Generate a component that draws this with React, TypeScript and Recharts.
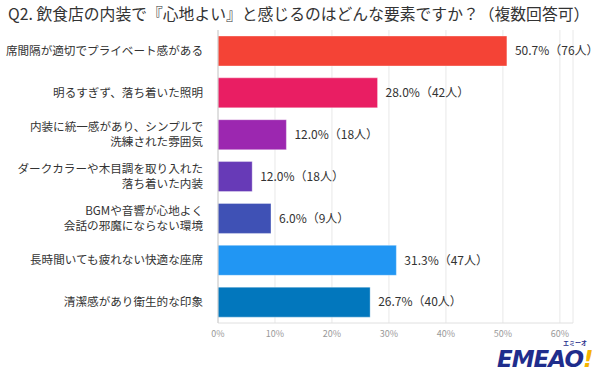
import React from 'react';
import { BarChart, Bar, XAxis, YAxis, CartesianGrid, Cell, LabelList } from 'recharts';

const categories = [
  '席間隔が適切でプライベート感がある',
  '明るすぎず、落ち着いた照明',
  '内装に統一感があり、シンプルで\n洗練された雰囲気',
  'ダークカラーや木目調を取り入れた\n落ち着いた内装',
  'BGMや音響が心地よく\n会話の邪魔にならない環境',
  '長時間いても疲れない快適な座席',
  '清潔感があり衛生的な印象',
];

// bar lengths as drawn in the picture (%)
const barValues = [50.7, 28.0, 12.0, 6.0, 9.3, 31.3, 26.7];

const valueLabels = [
  '50.7%（76人）',
  '28.0%（42人）',
  '12.0%（18人）',
  '12.0%（18人）',
  '6.0%（9人）',
  '31.3%（47人）',
  '26.7%（40人）',
];

const barColors = ['#F44336', '#E91E63', '#9C27B0', '#673AB7', '#3F51B5', '#2196F3', '#0277BD'];

const xTicks = [0, 10, 20, 30, 40, 50, 60];

const data = categories.map((name, i) => ({ name, value: barValues[i], label: valueLabels[i] }));

const FONT = '"Noto Sans CJK JP", "Noto Sans", sans-serif';

const CategoryTick = (props: any) => {
  const { x, y, payload } = props;
  const lines: string[] = String(payload.value).split('\n');
  const lh = 15;
  const start = -((lines.length - 1) * lh) / 2;
  return (
    <g transform={`translate(${x - 7},${y})`}>
      {lines.map((line, i) => (
        <text
          key={i}
          x={0}
          y={start + i * lh}
          dy="0.36em"
          textAnchor="end"
          fontSize={11.6}
          fill="#333"
          fontFamily={FONT}
        >
          {line}
        </text>
      ))}
    </g>
  );
};

const ValueLabel = (props: any) => {
  const { x, y, width, height, index } = props;
  return (
    <text
      x={x + width + 8}
      y={y + height / 2}
      dy="0.36em"
      fontSize={12}
      fill="#333"
      fontFamily={FONT}
    >
      {valueLabels[index]}
    </text>
  );
};

export default function App() {
  return (
    <div
      style={{
        position: 'absolute',
        left: 0,
        top: 0,
        width: 600,
        height: 372,
        background: '#fff',
        fontFamily: FONT,
      }}
    >
      <div
        style={{
          position: 'absolute',
          left: 8,
          top: 3,
          fontSize: 15.8,
          lineHeight: '22px',
          color: '#333',
          whiteSpace: 'nowrap',
        }}
      >
        Q2. 飲食店の内装で『心地よい』と感じるのはどんな要素ですか？（複数回答可）
      </div>
      <BarChart
        width={600}
        height={372}
        data={data}
        layout="vertical"
        margin={{ top: 30, right: 27, bottom: 29, left: 0 }}
        barSize={30}
      >
        <CartesianGrid horizontal={false} stroke="#e8e8e8" />
        <XAxis
          type="number"
          domain={[0, 62.3]}
          ticks={xTicks}
          tickFormatter={(v: number) => `${v}%`}
          tick={{ fontSize: 9, fill: '#999', fontFamily: FONT }}
          tickLine={false}
          axisLine={{ stroke: '#e0e0e0' }}
          height={20}
          allowDataOverflow
        />
        <YAxis
          type="category"
          dataKey="name"
          width={218}
          tick={<CategoryTick />}
          tickLine={false}
          axisLine={{ stroke: '#cccccc' }}
          interval={0}
        />
        <Bar dataKey="value" isAnimationActive={false} stroke="#ffffff" strokeOpacity={0.35}>
          {data.map((d, i) => (
            <Cell key={d.name} fill={barColors[i]} />
          ))}
          <LabelList dataKey="label" content={<ValueLabel />} />
        </Bar>
      </BarChart>
      <div style={{ position: 'absolute', left: 497, top: 336, width: 100, height: 36 }}>
        <div
          style={{
            position: 'absolute',
            left: 66,
            top: 3,
            fontSize: 6,
            fontWeight: 700,
            color: '#1f2d8c',
            lineHeight: '7px',
          }}
        >
          エミーオ
        </div>
        <div
          style={{
            position: 'absolute',
            left: 0,
            top: 11,
            fontSize: 23,
            fontWeight: 900,
            fontStyle: 'italic',
            lineHeight: '24px',
            letterSpacing: -1,
            fontFamily: '"DejaVu Sans", sans-serif',
            color: '#1f2d8c',
          }}
        >
          EMEAO<span style={{ color: '#f5b400' }}>!</span>
        </div>
      </div>
    </div>
  );
}
